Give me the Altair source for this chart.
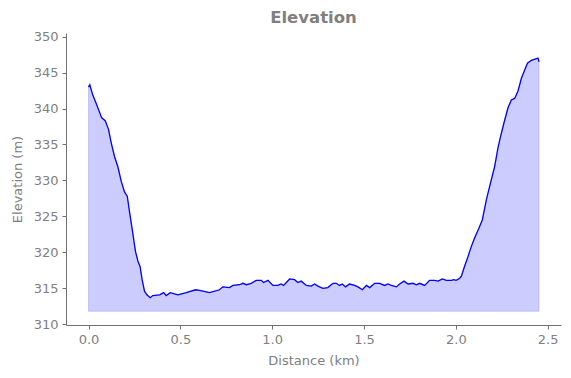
import altair as alt
import pandas as pd

distance_km = [
    0.000, 0.007, 0.023, 0.042, 0.072, 0.091, 0.109, 0.124, 0.142, 0.160,
    0.178, 0.196, 0.211, 0.223, 0.238, 0.256, 0.269, 0.281, 0.292, 0.305,
    0.318, 0.336, 0.350, 0.387, 0.409, 0.423, 0.445, 0.487, 0.532, 0.583,
    0.605, 0.659, 0.713, 0.731, 0.768, 0.786, 0.822, 0.840, 0.859, 0.886,
    0.913, 0.941, 0.953, 0.977, 1.004, 1.031, 1.049, 1.062, 1.095, 1.122,
    1.140, 1.158, 1.186, 1.213, 1.231, 1.249, 1.276, 1.303, 1.331, 1.349,
    1.367, 1.382, 1.400, 1.421, 1.449, 1.467, 1.491, 1.513, 1.531, 1.558,
    1.585, 1.612, 1.630, 1.649, 1.676, 1.694, 1.718, 1.740, 1.767, 1.785,
    1.803, 1.830, 1.857, 1.885, 1.903, 1.927, 1.948, 1.976, 1.988, 2.002,
    2.021, 2.030, 2.048, 2.066, 2.084, 2.102, 2.126, 2.144, 2.166, 2.188,
    2.211, 2.229, 2.248, 2.266, 2.284, 2.302, 2.320, 2.338, 2.357, 2.375,
    2.390, 2.411, 2.435, 2.447, 2.453,
]
elevation_m = [
    342.97, 343.3, 341.9, 340.7, 338.7, 338.3, 337.1, 335.2, 333.3, 331.9,
    329.9, 328.4, 327.8, 325.7, 323.2, 320.1, 318.8, 318.0, 316.2, 314.6,
    314.1, 313.7, 314.0, 314.1, 314.4, 314.0, 314.4, 314.1, 314.4, 314.8,
    314.7, 314.4, 314.8, 315.2, 315.1, 315.4, 315.5, 315.7, 315.5, 315.7,
    316.1, 316.1, 315.8, 316.1, 315.4, 315.4, 315.6, 315.4, 316.3, 316.2,
    315.8, 316.0, 315.4, 315.3, 315.6, 315.3, 315.0, 315.1, 315.7, 315.7,
    315.4, 315.6, 315.2, 315.6, 315.4, 315.2, 314.8, 315.4, 315.1, 315.7,
    315.7, 315.4, 315.6, 315.4, 315.2, 315.6, 316.0, 315.6, 315.7, 315.5,
    315.7, 315.4, 316.1, 316.1, 316.0, 316.3, 316.1, 316.1, 316.2, 316.1,
    316.4, 316.7, 318.1, 319.4, 320.8, 322.0, 323.4, 324.5, 327.3, 329.6,
    331.9, 334.5, 336.6, 338.4, 340.1, 341.2, 341.4, 342.4, 344.2, 345.4,
    346.3, 346.7, 346.9, 347.0, 346.5,
]
fill_base = 311.8
x_ticks = [0.0, 0.5, 1.0, 1.5, 2.0, 2.5]
y_ticks = [310, 315, 320, 325, 330, 335, 340, 345, 350]

df = pd.DataFrame({"dist": distance_km, "elev": elevation_m})

gray = "#808080"
axis_common = dict(
    domainColor="#707070", tickColor="#707070", tickSize=4, grid=False,
    labelColor=gray, titleColor=gray, labelFont="DejaVu Sans",
    titleFont="DejaVu Sans", labelFontSize=13, titleFontSize=13,
    titleFontWeight="normal", labelPadding=4,
)

x = alt.X("dist:Q", title="Distance (km)",
          scale=alt.Scale(domain=[-0.1225, 2.5725], nice=False, zero=False),
          axis=alt.Axis(values=x_ticks, format=".1f", titlePadding=8, **axis_common))
y = alt.Y("elev:Q", title="Elevation (m)",
          scale=alt.Scale(domain=[309.9, 350.5], nice=False, zero=False),
          axis=alt.Axis(values=y_ticks, format="d", titlePadding=9, **axis_common))

area = alt.Chart(df).mark_area(
    color="#0000ff", fillOpacity=0.2, stroke="#0000ff", strokeOpacity=0.15,
    strokeWidth=1,
).encode(x=x, y=y, y2=alt.Y2(datum=fill_base))

line = alt.Chart(df).mark_line(color="#0000ff", strokeWidth=1.3).encode(x=x, y=y)

chart = (area + line).properties(
    width=495, height=292,
    title=alt.TitleParams("Elevation", font="DejaVu Sans", fontSize=16.5,
                          fontWeight="bold", color=gray, anchor="middle", offset=4),
    padding={"left": 58, "top": 25, "right": 2, "bottom": 45},
    autosize=alt.AutoSizeParams(type="none"),
).configure_view(stroke=None)

chart.save("out.html", embed_options={"renderer": "svg", "actions": False})
